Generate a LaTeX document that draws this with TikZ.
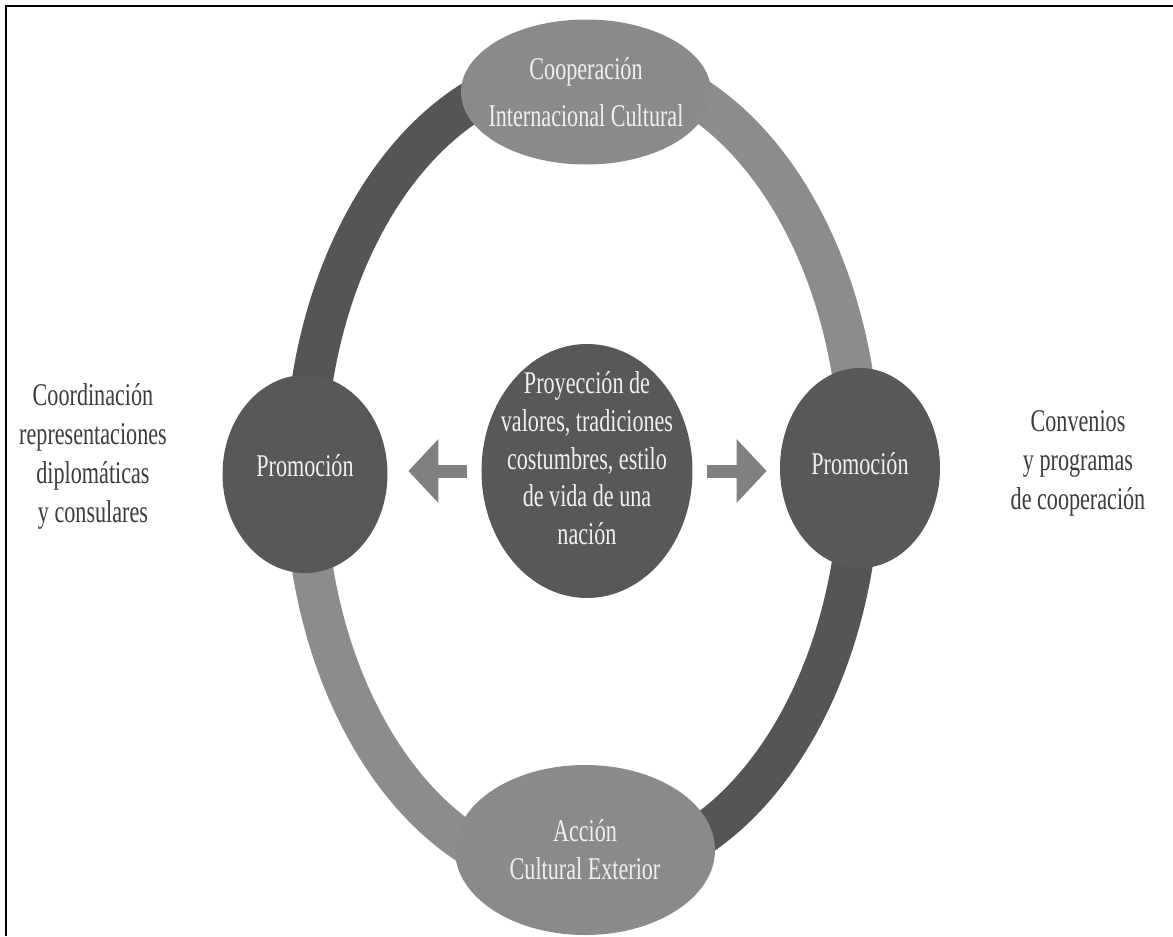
\documentclass[tikz,border=0pt]{standalone}
\usepackage{fontspec}
\setmainfont{Liberation Serif}[FakeStretch=0.7]
\usepackage{tikz}
\usetikzlibrary{shapes,arrows.meta,positioning,calc}
\usepackage{xcolor}
\definecolor{ringdark}{RGB}{85,85,85}
\definecolor{ringlight}{RGB}{140,140,140}
\definecolor{blobdark}{RGB}{88,88,88}
\definecolor{bloblight}{RGB}{138,138,138}
\definecolor{arrowgray}{RGB}{128,128,128}
\definecolor{sidegray}{RGB}{60,60,60}
\newcommand{\diagfont}{\fontsize{18}{21.6}\selectfont}
\newcommand{\sidefont}{\fontsize{18}{22.2}\selectfont}

\begin{document}
\begin{tikzpicture}[
    blob/.style={ellipse, inner sep=-6pt, align=center, font=\diagfont, text=white!94!black},
    darkblob/.style={blob, fill=blobdark},
    lightblob/.style={blob, fill=bloblight},
    ringseg/.style={line width=0.82cm},
    bigarrow/.style={line width=0.26cm, draw=arrowgray, -{Triangle[length=0.6cm,width=1.24cm]}},
    sidelabel/.style={align=center, font=\sidefont, text=sidegray}
]
\useasboundingbox (-11.6,-9.32) rectangle (11.86,9.4);

% frame (top and left only)
\draw[line width=0.05cm] (-11.48,-9.32) -- (-11.48,9.28) -- (11.86,9.28);

% side circles first, ring is hung on them
\coordinate (promL_c) at (-5.5,-0.08);
\coordinate (promR_c) at (5.6,0.04);

% ring - four quarter arcs
\draw[ringseg, ringdark] (promL_c) arc[start angle=180, end angle=90, x radius=5.5, y radius=8.1];
\draw[ringseg, ringlight] (promR_c) arc[start angle=0, end angle=90, x radius=5.5, y radius=8.1];
\draw[ringseg, ringlight] (promL_c) arc[start angle=180, end angle=270, x radius=5.5, y radius=8.1];
\draw[ringseg, ringdark] (promR_c) arc[start angle=0, end angle=-90, x radius=5.5, y radius=8.1];

% nodes on the ring
\node[lightblob, minimum width=5.0cm, minimum height=2.9cm] (coop) at (0.12,7.56) {Cooperación\\[5pt]Internacional Cultural};
\node[lightblob, minimum width=5.2cm, minimum height=3.4cm] (accion) at (0.1,-7.6) {Acción\\Cultural Exterior};
\node[darkblob, minimum width=3.3cm, minimum height=3.96cm] (promL) at (promL_c) {Promoción\\[-12pt]\mbox{}};
\node[darkblob, minimum width=3.2cm, minimum height=4.0cm] (promR) at (promR_c) {Promoción\\[-16pt]\mbox{}};

% centre
\node[darkblob, inner sep=-10pt, minimum width=4.22cm, minimum height=5.08cm] (proy) at (0.14,-0.02)
    {Proyección de\\valores, tradiciones\\costumbres, estilo\\de vida de una\\nación\\[-6.8pt]\mbox{}};

% block arrows out of the centre
\draw[bigarrow, shorten <=0.28cm, shorten >=0.41cm] (proy.west) -- (proy.west -| promL.east);
\draw[bigarrow, shorten <=0.29cm, shorten >=0.26cm] (proy.east) -- (proy.east -| promR.west);

% side labels
\node[sidelabel] (coord) at (-9.74,0.28) {Coordinación\\representaciones\\diplomáticas\\y consulares};
\node[sidelabel] (conv) at (9.96,0.14) {Convenios\\y programas\\de cooperación};

\end{tikzpicture}
\end{document}
